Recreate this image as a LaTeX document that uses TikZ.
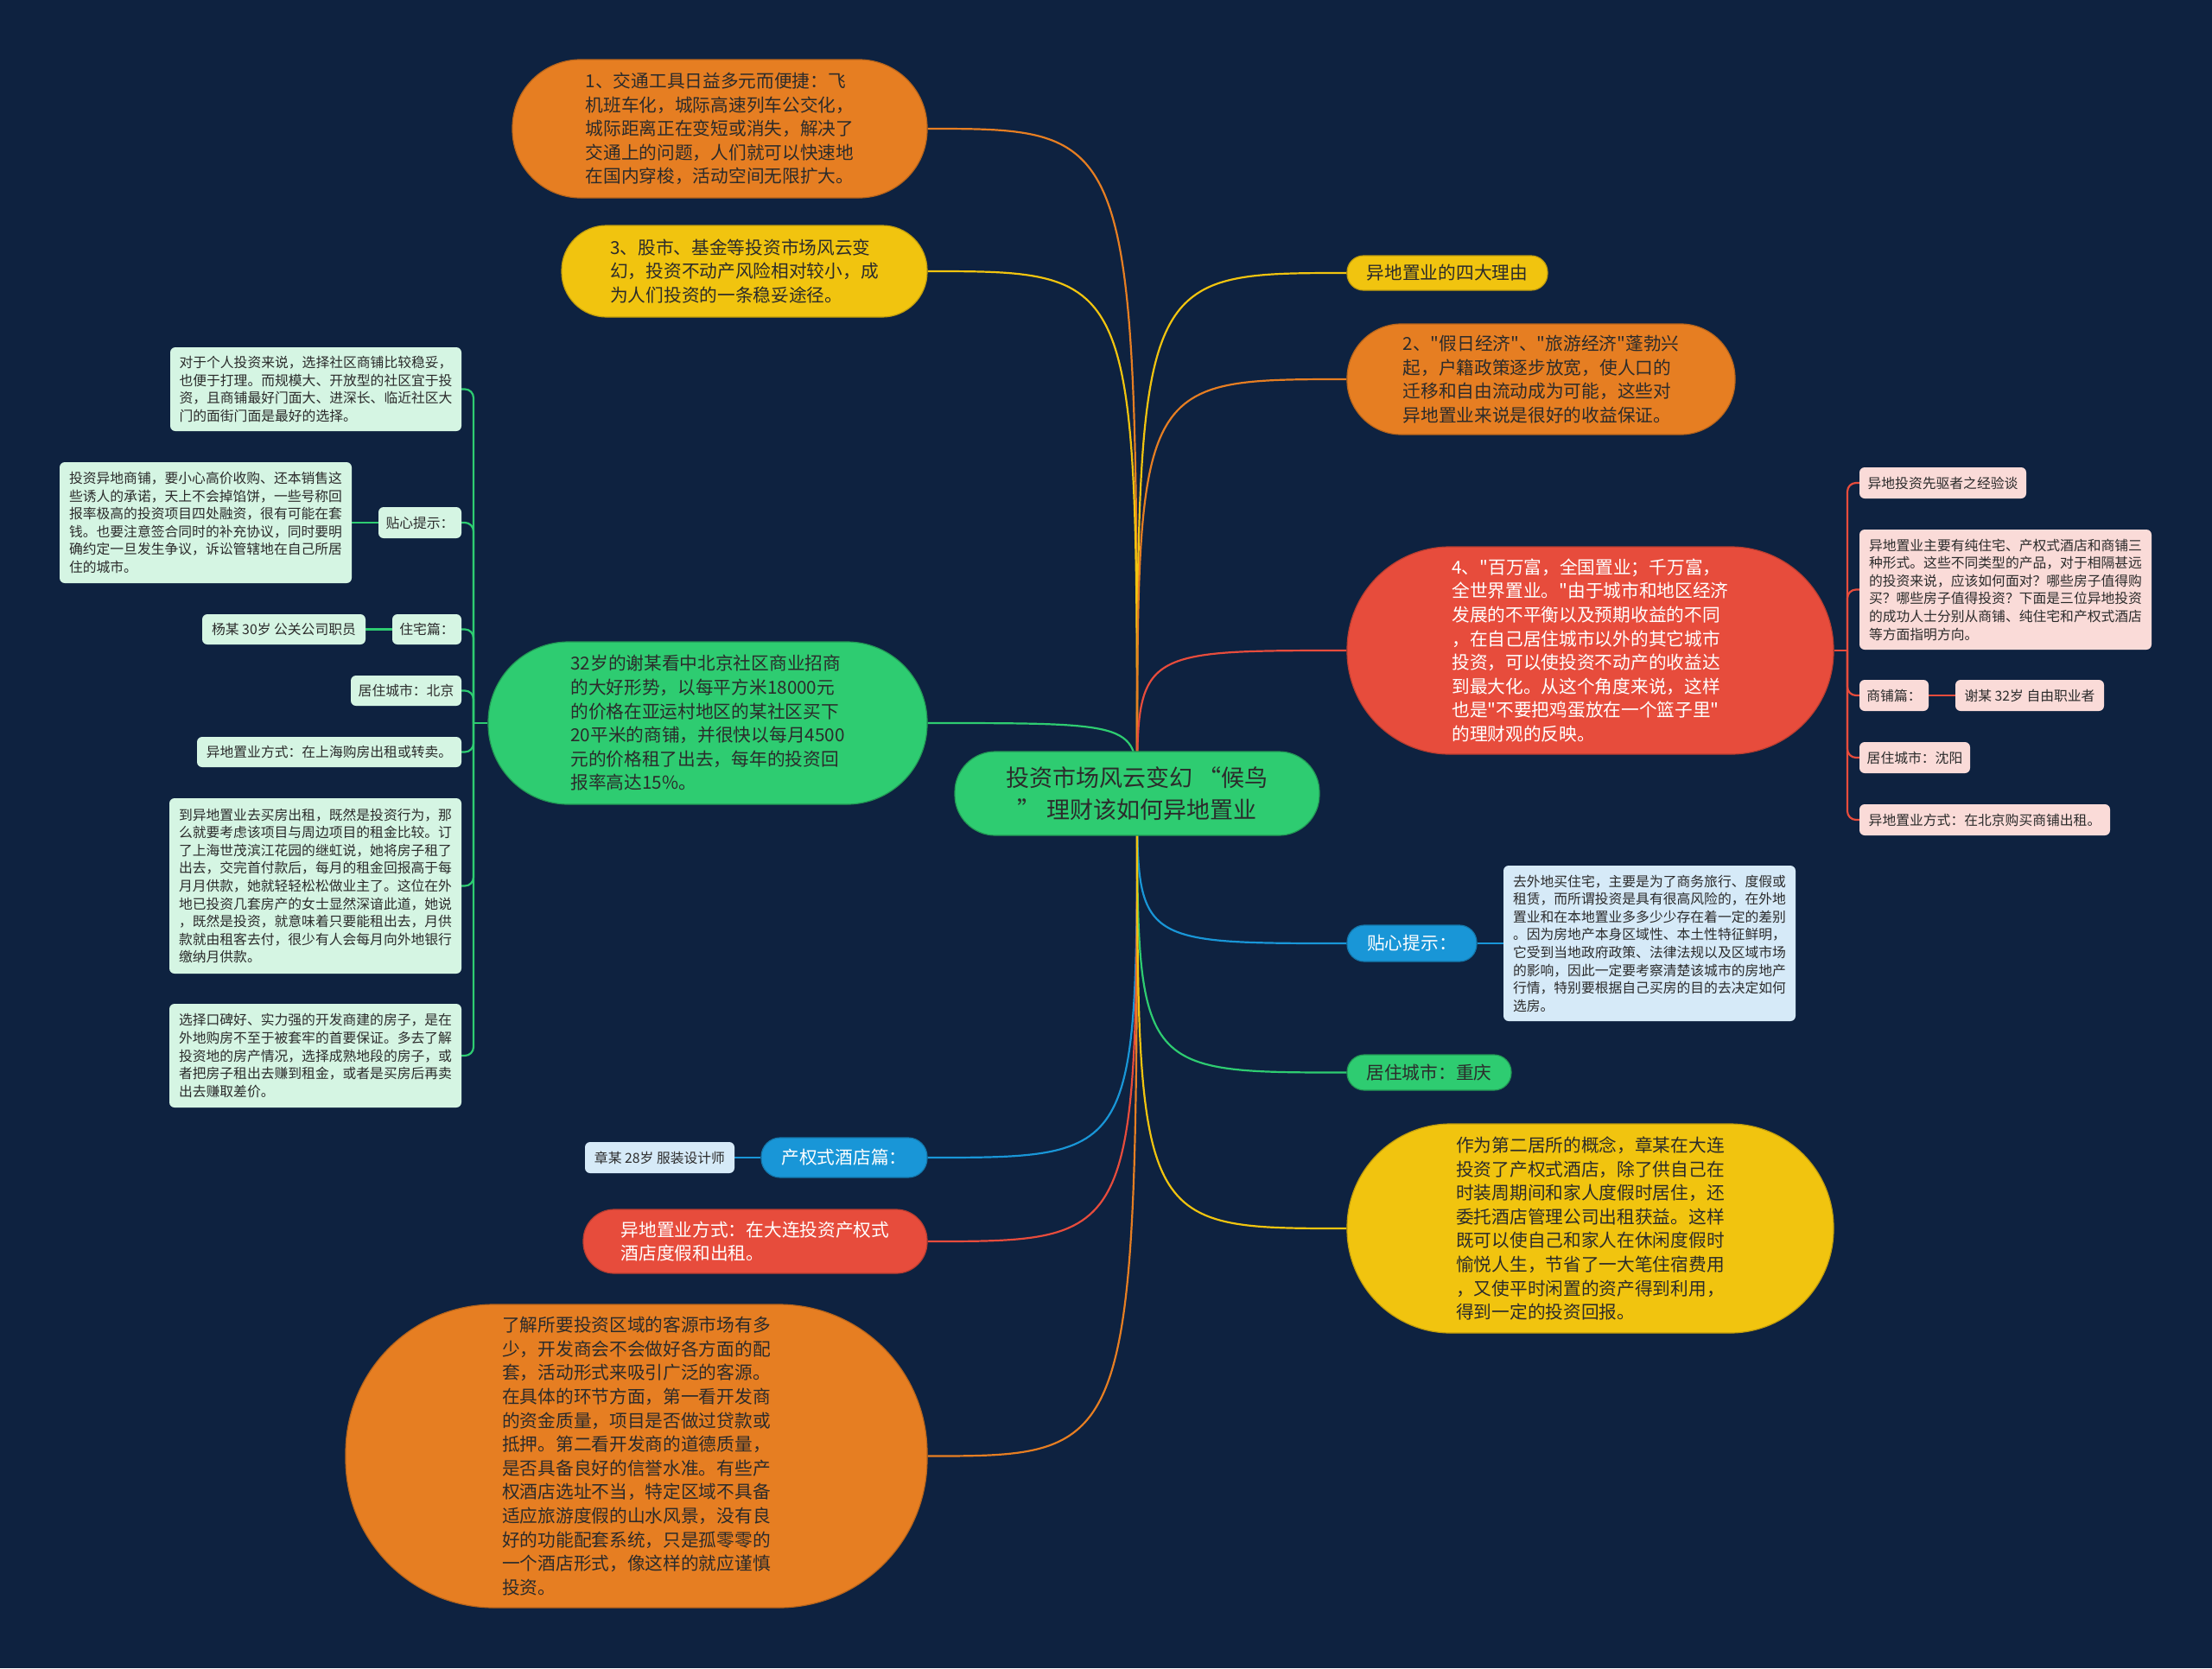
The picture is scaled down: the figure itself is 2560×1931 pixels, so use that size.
\documentclass[tikz,border=0pt]{standalone}
\usepackage{fontspec}
\newfontfamily\cjk[Ligatures=TeXOff]{Noto Sans CJK SC}
\newcommand{\mfcen}{\cjk\fontsize{27}{37.5}\selectfont}
\newcommand{\mfbig}{\cjk\fontsize{20.7}{27.6}\selectfont}
\newcommand{\mfsml}{\cjk\fontsize{15.8}{20.6}\selectfont}
\definecolor{bg}{HTML}{0E2240}
\definecolor{corange}{HTML}{E67E22}
\definecolor{cyellow}{HTML}{F1C40F}
\definecolor{cred}{HTML}{E74C3C}
\definecolor{cgreen}{HTML}{2ECC71}
\definecolor{cblue}{HTML}{1996D7}
\definecolor{lgreen}{HTML}{D5F5E3}
\definecolor{lpink}{HTML}{FADBD8}
\definecolor{lblue}{HTML}{D6EAF8}
\definecolor{txt}{HTML}{2B2B2B}
\pgfdeclarelayer{bglayer}
\pgfdeclarelayer{lines}
\pgfsetlayers{bglayer,lines,main}
\begin{document}
\begin{tikzpicture}[x=1pt,y=-1pt,
  blob/.style={rectangle, rounded corners=#1, inner sep=0pt, align=left, text=txt},
  bignode/.style={blob=#1, font=\mfbig, line width=1.2pt},
  smallbox/.style={rectangle, rounded corners=6, inner sep=0pt, align=left, text=txt, font=\mfsml},
  link/.style={line width=2.2pt},
  bracket/.style={line width=2.2pt, rounded corners=10},
  ]
\begin{pgfonlayer}{bglayer}
\fill[bg] (0,0) rectangle (2560,1931);
\end{pgfonlayer}
\useasboundingbox (0,0) rectangle (2560,1931);

% center
\node[blob=47, fill=cgreen, draw=cgreen!75!black, line width=1.2pt, minimum width=422, minimum height=97, font=\mfcen, align=center] (C) at (1316,918.5) {投资市场风云变幻 “候鸟\\” 理财该如何异地置业};

% left main
\node[bignode=79, fill=corange, draw=corange!80!black, minimum width=480, minimum height=160] (L1) at (833,149) {1、交通工具日益多元而便捷：飞\\机班车化，城际高速列车公交化，\\城际距离正在变短或消失，解决了\\交通上的问题，人们就可以快速地\\在国内穿梭，活动空间无限扩大。};
\node[bignode=52, fill=cyellow, draw=cyellow!80!black, minimum width=423, minimum height=106] (L3) at (861.5,314) {3、股市、基金等投资市场风云变\\幻，投资不动产风险相对较小，成\\为人们投资的一条稳妥途径。};
\node[bignode=93, fill=cgreen, draw=cgreen!75!black, minimum width=508, minimum height=188] (LG) at (819,837) {32岁的谢某看中北京社区商业招商\\的大好形势，以每平方米18000元\\的价格在亚运村地区的某社区买下\\20平米的商铺，并很快以每月4500\\元的价格租了出去，每年的投资回\\报率高达15\%。};
\node[bignode=22, fill=cblue, draw=cblue!80!black, text=white, minimum width=192, minimum height=46] (LB) at (977,1340) {产权式酒店篇：};
\node[bignode=36, fill=cred, draw=cred!80!black, text=white, minimum width=398, minimum height=74] (LR) at (874,1437) {异地置业方式：在大连投资产权式\\酒店度假和出租。};
\node[bignode=172, fill=corange, draw=corange!80!black, minimum width=673, minimum height=351] (LO) at (736.5,1685.5) {了解所要投资区域的客源市场有多\\少，开发商会不会做好各方面的配\\套，活动形式来吸引广泛的客源。\\在具体的环节方面，第一看开发商\\的资金质量，项目是否做过贷款或\\抵押。第二看开发商的道德质量，\\是否具备良好的信誉水准。有些产\\权酒店选址不当，特定区域不具备\\适应旅游度假的山水风景，没有良\\好的功能配套系统，只是孤零零的\\一个酒店形式，像这样的就应谨慎\\投资。};

% right main
\node[bignode=19, fill=cyellow, draw=cyellow!80!black, minimum width=232, minimum height=40] (R0) at (1675,316) {异地置业的四大理由};
\node[bignode=63, fill=corange, draw=corange!80!black, minimum width=449, minimum height=128] (R2) at (1783.5,439) {2、"假日经济"、"旅游经济"蓬勃兴\\起，户籍政策逐步放宽，使人口的\\迁移和自由流动成为可能，这些对\\异地置业来说是很好的收益保证。};
\node[bignode=119, fill=cred, draw=cred!80!black, text=white, minimum width=563, minimum height=240] (R4) at (1840.5,753) {4、"百万富，全国置业；千万富，\\全世界置业。"由于城市和地区经济\\发展的不平衡以及预期收益的不同\\，在自己居住城市以外的其它城市\\投资，可以使投资不动产的收益达\\到最大化。从这个角度来说，这样\\也是"不要把鸡蛋放在一个篮子里"\\的理财观的反映。};
\node[bignode=20, fill=cblue, draw=cblue!80!black, text=white, minimum width=150, minimum height=42] (RT) at (1634,1092) {贴心提示：};
\node[bignode=20, fill=cgreen, draw=cgreen!75!black, minimum width=190, minimum height=41] (RC) at (1654,1241.5) {居住城市：重庆};
\node[bignode=120, fill=cyellow, draw=cyellow!80!black, minimum width=563, minimum height=242] (RY) at (1840.5,1422) {作为第二居所的概念，章某在大连\\投资了产权式酒店，除了供自己在\\时装周期间和家人度假时居住，还\\委托酒店管理公司出租获益。这样\\既可以使自己和家人在休闲度假时\\愉悦人生，节省了一大笔住宿费用\\，又使平时闲置的资产得到利用，\\得到一定的投资回报。};

% right blue child
\node[smallbox, fill=lblue, minimum width=338, minimum height=180] (RTc) at (1909,1092) {去外地买住宅，主要是为了商务旅行、度假或\\租赁，而所谓投资是具有很高风险的，在外地\\置业和在本地置业多多少少存在着一定的差别\\。因为房地产本身区域性、本土性特征鲜明，\\它受到当地政府政策、法律法规以及区域市场\\的影响，因此一定要考察清楚该城市的房地产\\行情，特别要根据自己买房的目的去决定如何\\选房。};

% left blue child
\node[smallbox, fill=lblue, minimum width=173, minimum height=36] (LBc) at (763.5,1340) {章某 28岁 服装设计师};

% red children
\node[smallbox, fill=lpink, minimum width=193, minimum height=36] (p1) at (2248.5,559) {异地投资先驱者之经验谈};
\node[smallbox, fill=lpink, minimum width=338, minimum height=139] (p2) at (2321,682.5) {异地置业主要有纯住宅、产权式酒店和商铺三\\种形式。这些不同类型的产品，对于相隔甚远\\的投资来说，应该如何面对？哪些房子值得购\\买？哪些房子值得投资？下面是三位异地投资\\的成功人士分别从商铺、纯住宅和产权式酒店\\等方面指明方向。};
\node[smallbox, fill=lpink, minimum width=80, minimum height=36] (p3) at (2192,805) {商铺篇：};
\node[smallbox, fill=lpink, minimum width=172, minimum height=36] (p3c) at (2349,805) {谢某 32岁 自由职业者};
\node[smallbox, fill=lpink, minimum width=128, minimum height=36] (p4) at (2216,877) {居住城市：沈阳};
\node[smallbox, fill=lpink, minimum width=290, minimum height=36] (p5) at (2297,949) {异地置业方式：在北京购买商铺出租。};

% green children
\node[smallbox, fill=lgreen, minimum width=337, minimum height=97] (g1) at (365.5,450.5) {对于个人投资来说，选择社区商铺比较稳妥，\\也便于打理。而规模大、开放型的社区宜于投\\资，且商铺最好门面大、进深长、临近社区大\\门的面街门面是最好的选择。};
\node[smallbox, fill=lgreen, minimum width=96, minimum height=36] (g2) at (486,605) {贴心提示：};
\node[smallbox, fill=lgreen, minimum width=338, minimum height=140] (g2c) at (238,605) {投资异地商铺，要小心高价收购、还本销售这\\些诱人的承诺，天上不会掉馅饼，一些号称回\\报率极高的投资项目四处融资，很有可能在套\\钱。也要注意签合同时的补充协议，同时要明\\确约定一旦发生争议，诉讼管辖地在自己所居\\住的城市。};
\node[smallbox, fill=lgreen, minimum width=80, minimum height=35] (g3) at (494,728.5) {住宅篇：};
\node[smallbox, fill=lgreen, minimum width=189, minimum height=35] (g3c) at (328.5,728.5) {杨某 30岁 公关公司职员};
\node[smallbox, fill=lgreen, minimum width=128, minimum height=35] (g4) at (470,799.5) {居住城市：北京};
\node[smallbox, fill=lgreen, minimum width=306, minimum height=35] (g5) at (381,870.5) {异地置业方式：在上海购房出租或转卖。};
\node[smallbox, fill=lgreen, minimum width=338, minimum height=203] (g6) at (365,1025.5) {到异地置业去买房出租，既然是投资行为，那\\么就要考虑该项目与周边项目的租金比较。订\\了上海世茂滨江花园的继虹说，她将房子租了\\出去，交完首付款后，每月的租金回报高于每\\月月供款，她就轻轻松松做业主了。这位在外\\地已投资几套房产的女士显然深谙此道，她说\\，既然是投资，就意味着只要能租出去，月供\\款就由租客去付，很少有人会每月向外地银行\\缴纳月供款。};
\node[smallbox, fill=lgreen, minimum width=338, minimum height=120] (g7) at (365,1222) {选择口碑好、实力强的开发商建的房子，是在\\外地购房不至于被套牢的首要保证。多去了解\\投资地的房产情况，选择成熟地段的房子，或\\者把房子租出去赚到租金，或者是买房后再卖\\出去赚取差价。};

\coordinate (gh) at (548,837);
\coordinate (rh) at (2138,753);

\begin{pgfonlayer}{lines}
% main connectors
\draw[link, corange] (L1.east) .. controls (C.center |- L1.east) .. (C.center);
\draw[link, cyellow] (L3.east) .. controls (C.center |- L3.east) .. (C.center);
\draw[link, cgreen] (LG.east) .. controls (C.center |- LG.east) .. (C.center);
\draw[link, cblue] (LB.east) .. controls (C.center |- LB.east) .. (C.center);
\draw[link, cred] (LR.east) .. controls (C.center |- LR.east) .. (C.center);
\draw[link, corange] (LO.east) .. controls (C.center |- LO.east) .. (C.center);
\draw[link, cyellow] (R0.west) .. controls (C.center |- R0.west) .. (C.center);
\draw[link, corange] (R2.west) .. controls (C.center |- R2.west) .. (C.center);
\draw[link, cred] (R4.west) .. controls (C.center |- R4.west) .. (C.center);
\draw[link, cblue] (RT.west) .. controls (C.center |- RT.west) .. (C.center);
\draw[link, cgreen] (RC.west) .. controls (C.center |- RC.west) .. (C.center);
\draw[link, cyellow] (RY.west) .. controls (C.center |- RY.west) .. (C.center);
% direct links
\draw[link, cblue] (RT.east) -- (RTc.west);
\draw[link, cblue] (LB.west) -- (LBc.east);
\draw[link, cred] (p3.east) -- (p3c.west);
\draw[link, cgreen] (g2.west) -- (g2c.east);
\draw[link, cgreen] (g3.west) -- (g3c.east);
% red bracket
\draw[link, cred] (R4.east) -- (rh);
\foreach \n in {p1,p2,p3,p4,p5} \draw[bracket, cred] (rh) |- (\n.west);
% green bracket
\draw[link, cgreen] (LG.west) -- (gh);
\foreach \n in {g1,g2,g3,g4,g5,g6,g7} \draw[bracket, cgreen] (gh) |- (\n.east);
\end{pgfonlayer}
\end{tikzpicture}
\end{document}
